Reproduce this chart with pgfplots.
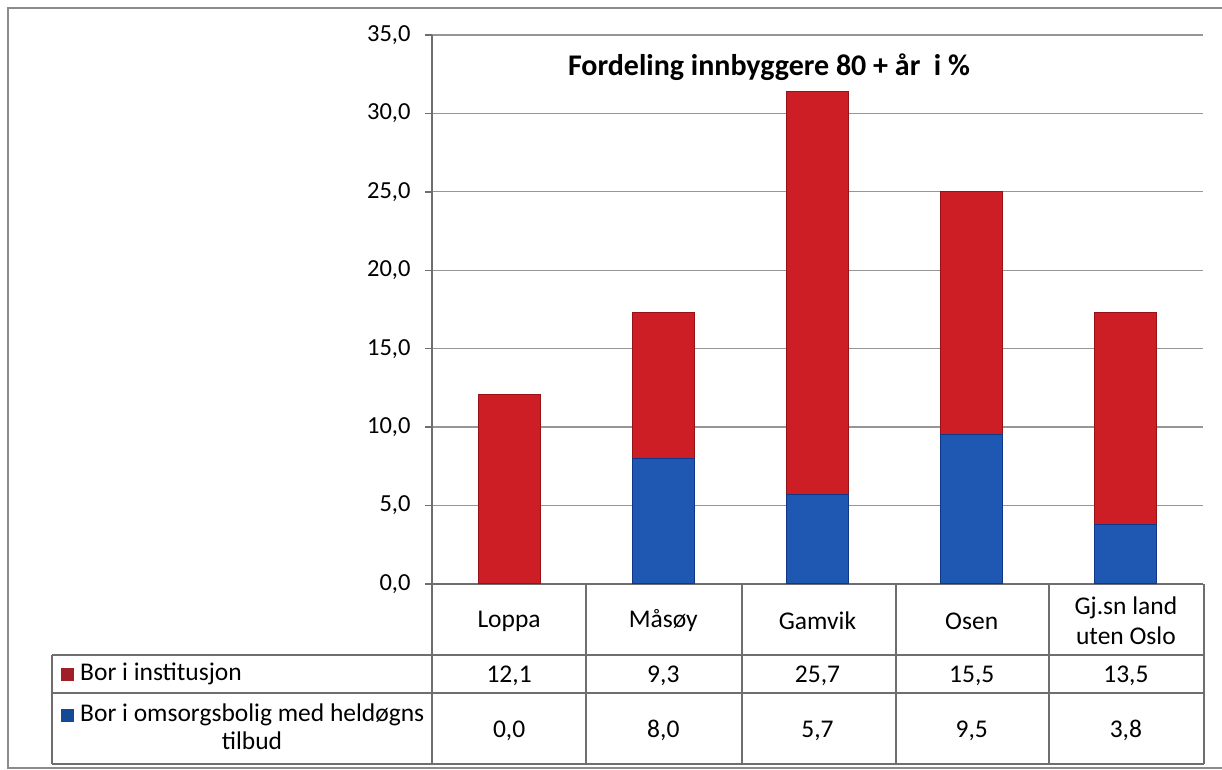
\documentclass[border=0pt]{standalone}
\usepackage{pgfplots}
\pgfplotsset{compat=1.18}
\usepackage{pgfplotstable}
\usepackage{fontspec}
\setmainfont{Carlito}

\definecolor{instred}{RGB}{204,30,36}
\definecolor{instredD}{RGB}{150,18,24}
\definecolor{omsblue}{RGB}{30,88,178}
\definecolor{omsblueD}{RGB}{16,55,135}
\definecolor{keyred}{RGB}{160,32,40}
\definecolor{keyblue}{RGB}{22,72,152}
\definecolor{gridgray}{RGB}{150,150,150}
\definecolor{linegray}{RGB}{110,110,110}

\pgfplotstableread{
x inst oms
0.5 12.1 0.0
1.5 9.3 8.0
2.5 25.7 5.7
3.5 15.5 9.5
4.5 13.5 3.8
}\data

\newcommand{\bigfont}{\fontsize{25.5bp}{30bp}\selectfont}
\newcommand{\tickfont}{\fontsize{24.5bp}{30bp}\selectfont}

\begin{document}
\begin{tikzpicture}[x=1bp,y=1bp]
\path[use as bounding box] (0,0) rectangle (1222,770);
% outer frame
\draw[linegray!80, line width=1.5bp] (1222,762) -- (8,762) -- (8,2) -- (1222,2);

\begin{axis}[
  at={(432bp,186bp)}, anchor=south west,
  scale only axis, width=771bp, height=549bp,
  xmin=0, xmax=5, ymin=0, ymax=35,
  ybar stacked, bar width=62bp,
  axis x line*=bottom, axis y line*=left,
  axis line style={linegray, line width=1.5bp},
  ytick={0,5,...,35},
  yticklabel={\pgfmathprintnumber[fixed,fixed zerofill,precision=1,use comma,assume math mode=true]{\tick}},
  tick align=outside, major tick length=7bp,
  ytick style={linegray, line width=1.5bp},
  ymajorgrids, grid style={gridgray, line width=1.3bp},
  xtick={0.5,1.5,2.5,3.5,4.5},
  xticklabels={Loppa, Måsøy, Gamvik, Osen, {Gj.sn land\\uten Oslo}},
  xtick style={draw=none},
  xticklabel style={anchor=center, align=center, yshift=-30bp, font=\bigfont},
  yticklabel style={font=\tickfont, xshift=-11bp},
  clip=false,
]
\addplot[draw=omsblueD, line width=1bp, fill=omsblue]
  table[x=x, y=oms] {\data};
\addplot[draw=instredD, line width=1bp, fill=instred]
  table[x=x, y=inst] {\data};
\end{axis}

\begin{axis}[
  at={(432bp,186bp)}, anchor=south west,
  scale only axis, width=771bp, height=549bp,
  xmin=0, xmax=5, ymin=0, ymax=35,
  hide axis, clip=false,
  every node near coord/.append style={anchor=base, inner sep=0pt, font=\bigfont, text=black},
]
\addplot[draw=none, mark=none, point meta=explicit,
  nodes near coords={\pgfmathprintnumber[fixed,fixed zerofill,precision=1,use comma,assume math mode=true]{\pgfplotspointmeta}}]
  table[x=x, y expr=-6.26, meta=inst] {\data};
\addplot[draw=none, mark=none, point meta=explicit,
  nodes near coords={\pgfmathprintnumber[fixed,fixed zerofill,precision=1,use comma,assume math mode=true]{\pgfplotspointmeta}}]
  table[x=x, y expr=-9.77, meta=oms] {\data};
\end{axis}

% data table grid
\begin{scope}[linegray, line width=1.4bp]
\draw (52,115) -- (1204,115);
\draw (52,77) -- (1204,77);
\draw (52,6) -- (1204,6);
\foreach \xx in {432,586,742,896,1049,1204} \draw (\xx,186) -- (\xx,6);
\draw (52,115) -- (52,6);
\end{scope}

% title
\node[font=\fontsize{30bp}{34bp}\selectfont\bfseries, anchor=base] at (769,694) {Fordeling innbyggere 80 + år\ \ i \%};

% legend column
\node[anchor=base west, inner sep=0pt, font=\bigfont] at (61,89) {{\color{keyred}\rule{13bp}{13bp}}\hspace{6bp}Bor i institusjon};
\node[anchor=base west, inner sep=0pt, font=\bigfont] at (61,48) {{\color{keyblue}\rule{13bp}{13bp}}\hspace{6bp}Bor i omsorgsbolig med heldøgns};
\node[anchor=base, inner sep=0pt, font=\bigfont] at (252,20) {tilbud};
\end{tikzpicture}
\end{document}
